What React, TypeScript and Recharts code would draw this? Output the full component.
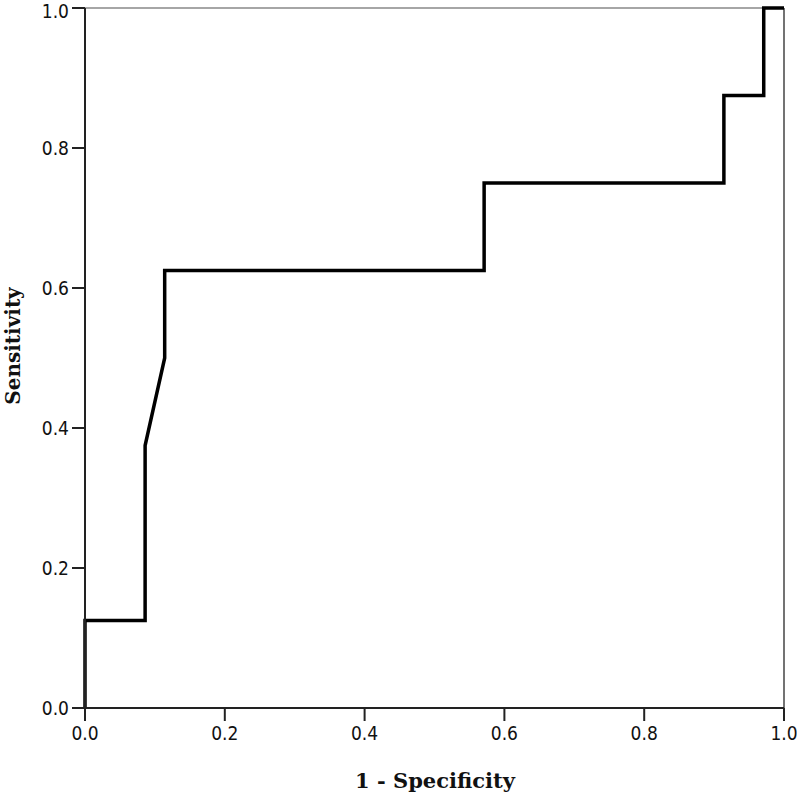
import { LineChart, Line, XAxis, YAxis, ReferenceLine, Label } from 'recharts';

// ROC curve points
const fpr = [0, 0, 0.086, 0.086, 0.114, 0.114, 0.571, 0.571, 0.914, 0.914, 0.971, 0.971, 1];
const tpr = [0, 0.125, 0.125, 0.375, 0.5, 0.625, 0.625, 0.75, 0.75, 0.875, 0.875, 1, 1];
const ticks = [0, 0.2, 0.4, 0.6, 0.8, 1];

const data = fpr.map((x, i) => ({ x, y: tpr[i] }));

const tickStyle = { fontFamily: '"DejaVu Sans Condensed", "DejaVu Sans", sans-serif', fontSize: 19, fill: '#111' };
const titleFont = '"DejaVu Serif", serif';

export default function App() {
    return (
        <div style={{ position: 'absolute', left: 0, top: 0, width: 797, height: 797, background: '#fff' }}>
            <LineChart width={797} height={797} data={data} margin={{ top: 8, right: 13, bottom: 0, left: 0 }}>
                <XAxis
                    dataKey="x"
                    type="number"
                    domain={[0, 1]}
                    ticks={ticks}
                    tickFormatter={(v: number) => v.toFixed(1)}
                    height={89}
                    tickSize={13}
                    tickMargin={6}
                    stroke="#222"
                    strokeWidth={2}
                    tick={tickStyle}
                >
                    <Label
                        content={() => (
                            <text x={435} y={788} textAnchor="middle" fontFamily={titleFont} fontWeight="bold" fontSize={21} fill="#111">
                                1 - Specificity
                            </text>
                        )}
                    />
                </XAxis>
                <YAxis
                    dataKey="y"
                    type="number"
                    domain={[0, 1]}
                    ticks={ticks}
                    tickFormatter={(v: number) => v.toFixed(1)}
                    width={85}
                    tickSize={13}
                    tickMargin={3}
                    stroke="#222"
                    strokeWidth={2}
                    tick={tickStyle}
                >
                    <Label
                        content={() => (
                            <text x={20} y={346} transform="rotate(-90 20 346)" textAnchor="middle" fontFamily={titleFont} fontWeight="bold" fontSize={20} fill="#111">
                                Sensitivity
                            </text>
                        )}
                    />
                </YAxis>
                <ReferenceLine y={1} stroke="#888" strokeWidth={1.5} />
                <ReferenceLine x={1} stroke="#444" strokeWidth={1.5} />
                <Line
                    type="linear"
                    dataKey="y"
                    stroke="#000"
                    strokeWidth={3.5}
                    dot={false}
                    isAnimationActive={false}
                />
            </LineChart>
        </div>
    );
}
